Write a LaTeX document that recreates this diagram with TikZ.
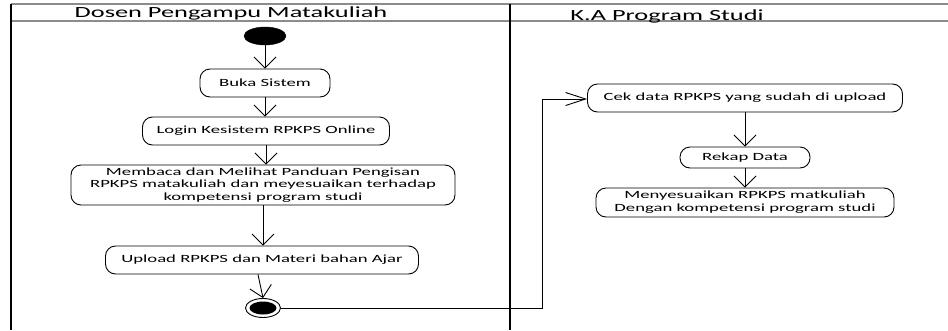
\documentclass[tikz,border=0pt]{standalone}
\usepackage{fontspec}
\setmainfont{Carlito}
\newfontfamily\boxfont[FakeStretch=1.7]{Carlito}
\usetikzlibrary{arrows.meta,shapes.geometric}
\begin{document}
\begin{tikzpicture}[x=1pt,y=-1pt,
  act/.style={draw,line width=0.9pt,rounded corners=10pt,align=center,
    font=\boxfont\fontsize{11}{12.8}\selectfont,inner sep=0pt},
  head/.style={font=\boxfont\fontsize{15.5}{17}\selectfont,anchor=base,inner sep=0pt},
  flow/.style={line width=0.9pt,-{Straight Barb[length=11pt,width=22pt,line width=0.9pt]}},
  flowb/.style={line width=0.9pt,-{Straight Barb[length=20pt,width=13pt,line width=0.9pt]}},
  lane/.style={line width=1.6pt,black},
  hline/.style={line width=2.5pt,black!45}]
\useasboundingbox (0,0) rectangle (948,330);
% swimlanes
\draw[hline] (11,4) -- (948,4);
\draw[hline] (11,21) -- (948,21);
\draw[lane] (11,4) -- (11,330);
\draw[lane] (510,4) -- (510,330);
\node[head] (h1) at (231,17) {Dosen Pengampu Matakuliah};
\node[head] (h2) at (667,20) {K.A Program Studi};
% left lane
\node[fill=black,ellipse,minimum width=42pt,minimum height=18pt,inner sep=0pt,draw] (start) at (265,36) {};
\node[act,minimum width=130pt,minimum height=28pt] (buka) at (265,83) {Buka Sistem};
\node[act,minimum width=247pt,minimum height=28pt] (login) at (266,131) {Login Kesistem RPKPS Online};
\node[act,minimum width=384pt,minimum height=40pt] (baca) at (263,185) {Membaca dan Melihat Panduan Pengisan\\RPKPS matakuliah dan meyesuaikan terhadap\\kompetensi program studi};
\node[act,minimum width=313pt,minimum height=28pt] (upload) at (262,260) {Upload RPKPS dan Materi bahan Ajar};
\node[draw,line width=0.9pt,ellipse,minimum width=35pt,minimum height=19pt,inner sep=0pt] (endo) at (263,308) {};
\node[fill=black,ellipse,minimum width=27pt,minimum height=13pt,inner sep=0pt] (endi) at (263,308) {};
% right lane
\node[act,minimum width=315pt,minimum height=28pt] (cek) at (745,98) {Cek data RPKPS yang sudah di upload};
\node[act,minimum width=130pt,minimum height=21pt] (rekap) at (745,157.5) {Rekap Data};
\node[act,minimum width=298pt,minimum height=29pt] (sesuai) at (745,202.5) {Menyesuaikan RPKPS matkuliah\\Dengan kompetensi program studi};
\coordinate (c1) at (542,308);
\coordinate (c2) at (542,99);
% flows
\draw[flow] (start.south) -- (start.south |- buka.north);
\draw[flow] (buka.south) -- (buka.south |- login.north);
\draw[flow] (login.south) -- (login.south |- baca.north);
\draw[flow] (baca.south) -- (baca.south |- upload.north);
\draw[flow] ([xshift=-4pt]upload.south) -- (endo.north);
\draw[flowb] (endo.east) -- (c1) -- (c2) -- (c2 -| cek.west);
\draw[flow] (cek.south) -- (rekap.north);
\draw[flow] (rekap.south) -- (sesuai.north);
\end{tikzpicture}
\end{document}
